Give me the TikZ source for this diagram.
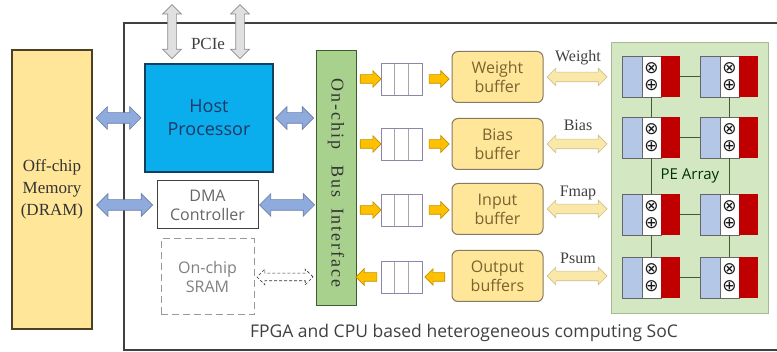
\documentclass[tikz,border=0pt]{standalone}
\usepackage{fontspec}
\setmainfont{Liberation Serif}
\setsansfont{Open Sans}
\newfontfamily\opfont{DejaVu Sans}
\usetikzlibrary{shapes.arrows}

\definecolor{memfill}{HTML}{FFE699}
\definecolor{memdraw}{HTML}{4D4026}
\definecolor{hostfill}{HTML}{0AAEEC}
\definecolor{hostdraw}{HTML}{12405F}
\definecolor{hosttext}{HTML}{1F3864}
\definecolor{linkblue}{HTML}{8FAADC}
\definecolor{busfill}{HTML}{A9D18E}
\definecolor{busdraw}{HTML}{3B5E2B}
\definecolor{bufdraw}{HTML}{857A62}
\definecolor{buftext}{HTML}{7A6330}
\definecolor{feedfill}{HTML}{FFC000}
\definecolor{feeddraw}{HTML}{BF9000}
\definecolor{widefill}{HTML}{F9E8A8}
\definecolor{widedraw}{HTML}{CDBE8F}
\definecolor{pefill}{HTML}{D2E7C2}
\definecolor{pedraw}{HTML}{A3BC94}
\definecolor{pebuf}{HTML}{B4C7E7}
\definecolor{pereg}{HTML}{C00000}
\definecolor{qdraw}{HTML}{8C86A8}

\tikzset{
  sans/.style={font=\sffamily\fontsize{16}{19}\selectfont},
  serif/.style={font=\rmfamily\fontsize{16}{19}\selectfont, text=black!75},
  memory/.style={draw=memdraw, line width=1.2pt, fill=memfill, minimum width=80, minimum height=279,
    align=center, font=\rmfamily\fontsize{17}{22}\selectfont, text=black!80},
  host/.style={draw=hostdraw, line width=1.2pt, fill=hostfill, minimum width=128, minimum height=108,
    align=center, font=\sffamily\fontsize{18}{23}\selectfont, text=hosttext},
  dma/.style={sans, draw=black!75, line width=1pt, fill=white, minimum width=101, minimum height=48,
    align=center, text=black!60},
  sram/.style={sans, draw=black!40, dash pattern=on 7pt off 4pt, line width=1pt, minimum width=93, minimum height=76,
    align=center, text=black!50},
  bus/.style={draw=busdraw, line width=1pt, fill=busfill, minimum width=40, minimum height=255},
  queue/.style={draw=qdraw, line width=0.8pt, fill=white, minimum width=41, minimum height=32, inner sep=0pt,
    path picture={
      \draw[black!35, line width=0.8pt] ([xshift=13.7pt]path picture bounding box.north west) -- ([xshift=13.7pt]path picture bounding box.south west);
      \draw[black!35, line width=0.8pt] ([xshift=-13.7pt]path picture bounding box.north east) -- ([xshift=-13.7pt]path picture bounding box.south east);}},
  buffer/.style={sans, draw=bufdraw, line width=1pt, fill=memfill, rounded corners=6pt,
    minimum width=91, minimum height=51, align=center, text=buftext},
  pearray/.style={draw=pedraw, line width=1pt, fill=pefill, minimum width=157, minimum height=271},
  pecell/.style={minimum width=58, minimum height=41, inner sep=0pt, anchor=north west},
  peop/.style={font=\opfont\fontsize{17}{17}\selectfont, inner sep=0pt, text=black!90},
  peline/.style={draw=busdraw, line width=0.8pt},
  fat/.style={double arrow, minimum width=0pt, inner xsep=0pt, anchor=center, line width=0.7pt},
  link/.style={fat, fill=linkblue, draw=linkblue!75!black, inner ysep=5pt, double arrow head extend=6pt},
  pcie/.style={fat, rotate=90, fill=black!12, draw=black!45, inner ysep=4pt, double arrow head extend=5pt},
  sramlink/.style={fat, fill=white, draw=black!80, densely dashed, inner ysep=3.5pt, double arrow head extend=4pt},
  feed/.style={single arrow, minimum width=0pt, inner xsep=0pt, inner ysep=4pt, single arrow head extend=4pt,
    anchor=center, line width=0.7pt, fill=feedfill, draw=feeddraw, minimum height=21},
  wide/.style={fat, fill=widefill, draw=widedraw, inner ysep=4.5pt, double arrow head extend=4pt, minimum height=60},
}

\begin{document}
\begin{tikzpicture}[x=1pt,y=-1pt]
\useasboundingbox (0,0) rectangle (777,352);

% SoC frame and caption
\draw[black!75, line width=1.5pt] (800,23) -- (124,23) -- (124,350) -- (800,350);
\node[font=\sffamily\fontsize{17.5}{20}\selectfont, text=black!75] (soccap) at (464,333) {FPGA and CPU based heterogeneous computing SoC};

% memory, host side
\node[memory] (mem) at (52,189.5) {Off-chip\\Memory\\(DRAM)};
\node[host] (host) at (209,118) {Host\\Processor};
\node[dma] (dma) at (207.5,205) {DMA\\Controller};
\node[sram] (sram) at (207.5,277) {On-chip\\SRAM};
\node[bus] (bus) at (336,178.5) {};
\node[font=\rmfamily\fontsize{18}{20}\selectfont\addfontfeature{LetterSpace=11}, text=black!80, rotate=-90]
  (busname) at (336,183) {On-chip\hspace{16pt}Bus\hspace{11pt}Interface};

% PCIe links
\coordinate (pcieA) at (172,0);
\coordinate (pcieB) at (240,0);
\path (pcieA) -- (pcieA |- host.north) node[midway, pcie, minimum height=54] {};
\path (pcieB) -- (pcieB |- host.north) node[midway, pcie, minimum height=54] {};
\node[serif, font=\rmfamily\fontsize{17}{19}\selectfont] (pcielbl) at (208,44) {PCIe};

% links to the bus
\path (mem.east |- host.west) -- (host.west) node[midway, link, minimum height=45] {};
\path (host.east) -- (bus.west |- host.east) node[midway, link, minimum height=38] {};
\path (mem.east |- dma.west) -- (dma.west) node[midway, link, minimum height=56] {};
\path (dma.east) -- (bus.west |- dma.east) node[midway, link, minimum height=55] {};
\path (sram.east) -- (bus.west |- sram.east) node[midway, sramlink, minimum height=56] {};

% queues and buffers
\node[queue] (qw) at (401.5,79) {};
\node[queue] (qb) at (401.5,144) {};
\node[queue] (qi) at (401.5,210) {};
\node[queue] (qo) at (401.5,277) {};
\node[buffer] (bw) at (497.5,77) {Weight\\buffer};
\node[buffer] (bb) at (497.5,144) {Bias\\buffer};
\node[buffer] (bi) at (497.5,209) {Input\\buffer};
\node[buffer] (bo) at (497.5,276) {Output\\buffers};

\path (bus.east |- qw.west) -- (qw.west) node[midway, feed] {};
\path (bus.east |- qb.west) -- (qb.west) node[midway, feed] {};
\path (bus.east |- qi.west) -- (qi.west) node[midway, feed] {};
\path (bus.east |- qo.west) -- (qo.west) node[midway, feed, shape border rotate=180] {};
\path (qw.east) -- (qw.east -| bw.west) node[midway, feed, minimum height=20] {};
\path (qb.east) -- (qb.east -| bb.west) node[midway, feed, minimum height=20] {};
\path (qi.east) -- (qi.east -| bi.west) node[midway, feed, minimum height=20] {};
\path (qo.east) -- (qo.east -| bo.west) node[midway, feed, minimum height=20, shape border rotate=180] {};

% PE array
\node[pearray] (pearray) at (689.5,178.5) {};
\node[font=\sffamily\fontsize{15}{17}\selectfont, text=black!80!green] (pelbl) at (690,176) {PE Array};

\path (bw.east) -- (bw.east -| pearray.west) node[midway, wide] {};
\path (bb.east) -- (bb.east -| pearray.west) node[midway, wide] {};
\path (bi.east) -- (bi.east -| pearray.west) node[midway, wide] {};
\path (bo.east) -- (bo.east -| pearray.west) node[midway, wide] {};
\node[serif] (lw) at (578,58) {Weight};
\node[serif] (lb) at (578,125) {Bias};
\node[serif] (lf) at (578,193) {Fmap};
\node[serif] (lp) at (578,258) {Psum};

% PE cells: operand regs, mult/add, output reg
\foreach \r/\t in {1/56,2/117,3/194,4/257}{
  \foreach \c/\l in {1/622,2/700}{
    \node[pecell] (pe\r\c) at (\l,\t) {};
    \filldraw[fill=pebuf, draw=black!60, line width=0.6pt] (\l,\t) rectangle ++(20,41);
    \filldraw[fill=white, draw=black!60, line width=0.6pt] (\l+20,\t) rectangle ++(19,41);
    \fill[pereg] (\l+39,\t) rectangle ++(19,41);
    \node[peop] (mul\r\c) at (\l+29.5,\t+12) {⊗};
    \node[peop] (add\r\c) at (\l+29.5,\t+29) {⊕};
  }
}
\foreach \r in {1,2,3,4}
  \draw[peline] (pe\r1.east) -- (pe\r2.west);
\foreach \r/\n in {1/2,2/3,3/4}{
  \draw[peline] (pe\r1.south) -- (pe\n1.north);
  \draw[peline] (pe\r2.south) -- (pe\n2.north);
}
\end{tikzpicture}
\end{document}
